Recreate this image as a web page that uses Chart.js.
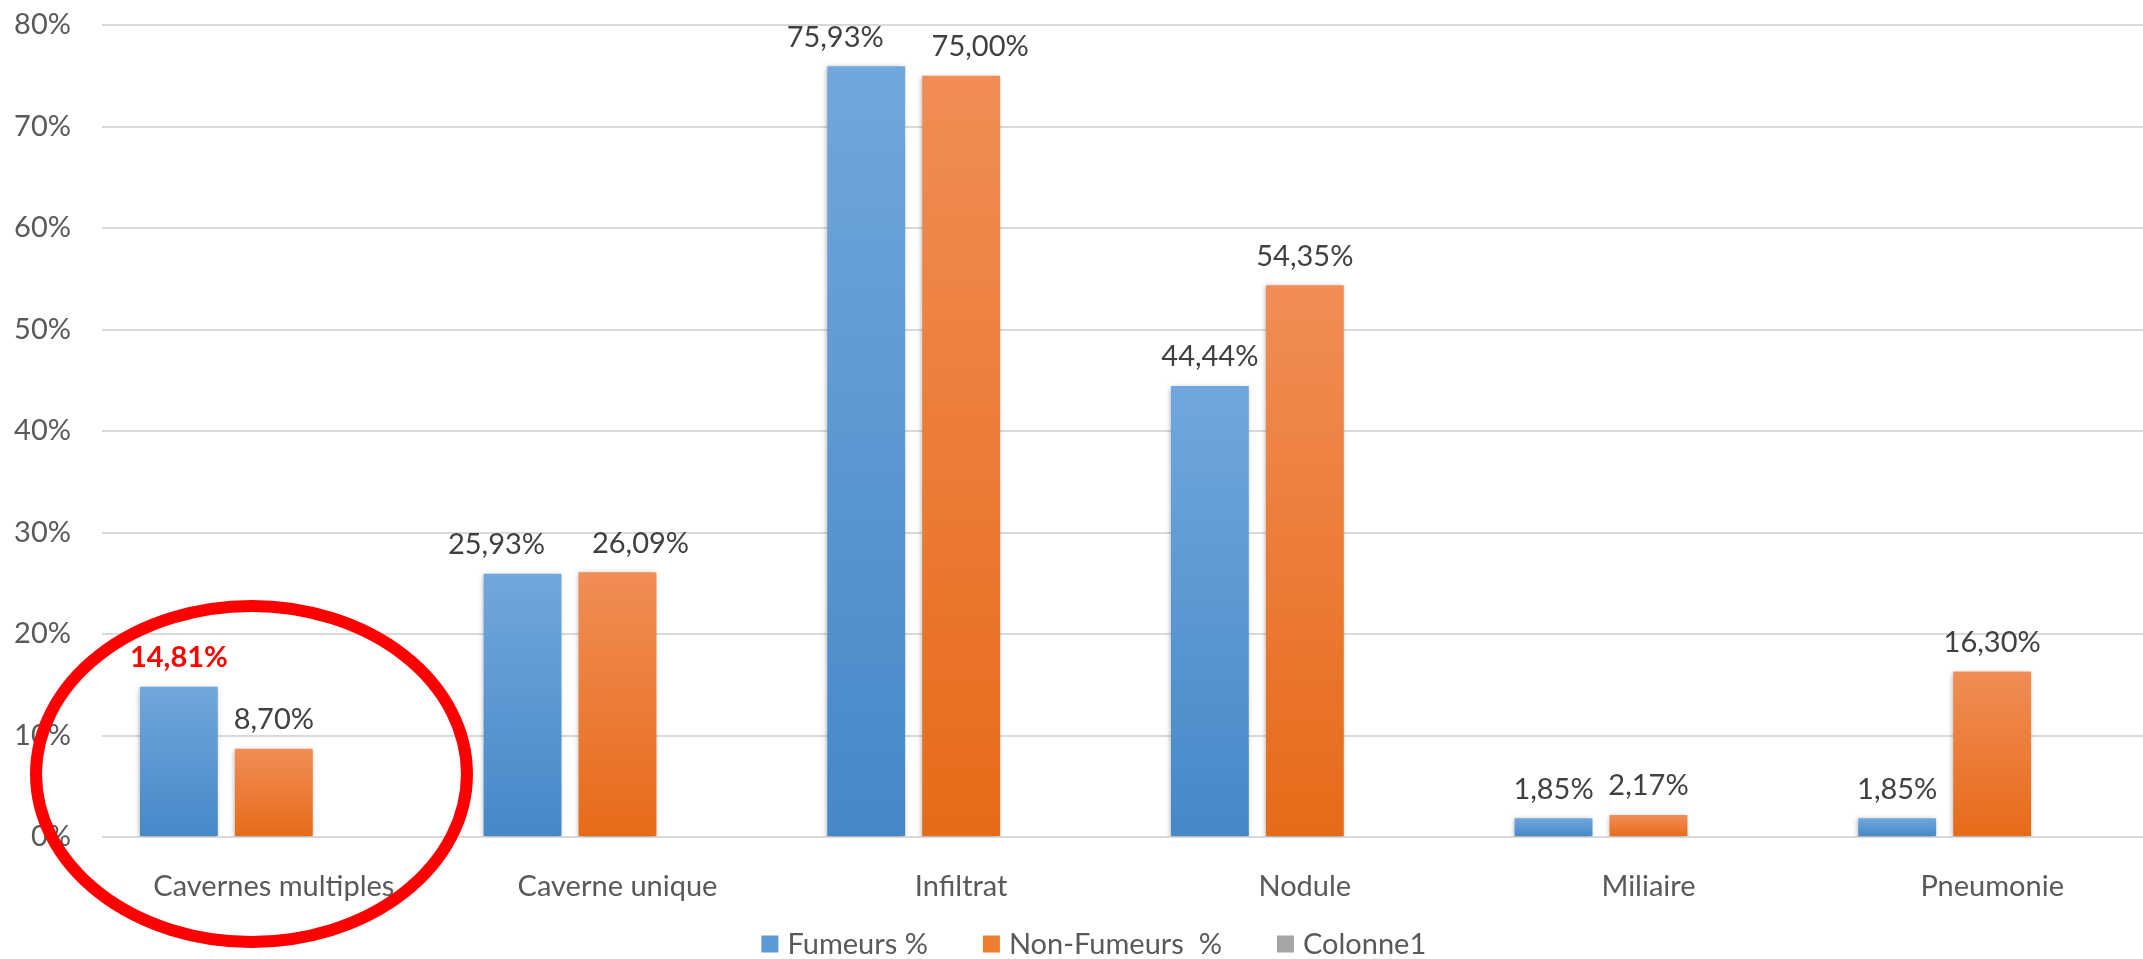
<!DOCTYPE html>
<html>
<head>
<meta charset="utf-8">
<script src="https://cdn.jsdelivr.net/npm/chart.js@4.4.1/dist/chart.umd.min.js"></script>
<style>
  html, body { margin: 0; padding: 0; background: #fff; overflow: hidden; }
  /* the original is cropped on the right, so the canvas runs a little past the window */
  #wrap { width: 2143px; height: 959px; overflow: hidden; }
</style>
</head>
<body>
<div id="wrap"><canvas id="chart" width="2164" height="959"></canvas></div>
<script>
// data
const categories = ["Cavernes multiples", "Caverne unique", "Infiltrat", "Nodule", "Miliaire", "Pneumonie"];
const fumeurs = [14.81, 25.93, 75.93, 44.44, 1.85, 1.85];
const nonFumeurs = [8.70, 26.09, 75.00, 54.35, 2.17, 16.30];
const colonne1 = [null, null, null, null, null, null];
const seriesNames = ["Fumeurs %", "Non-Fumeurs  %", "Colonne1"];
const yMax = 80;
const yStep = 10;
// the one label shown in red bold (series, category)
const highlight = { dataset: 0, index: 0 };

const FONT = "Lato";
const legendColors = ["#5B9BD5", "#ED7D31", "#A5A5A5"];
// labels that were dragged sideways in the original (dataset-index -> px)
const labelNudge = { "0-1": -26, "1-1": 23, "0-2": -31, "1-2": 19 };

const fmt = (v) => v.toFixed(2).replace(".", ",") + "%";

// vertical gradient per bar, like the Excel fill
const gradientFill = (top, bottom) => (context) => {
  const chart = context.chart;
  if (!chart.chartArea || !context.parsed || context.parsed.y == null) return bottom;
  const y0 = chart.scales.y.getPixelForValue(0);
  const y1 = chart.scales.y.getPixelForValue(context.parsed.y);
  if (Math.abs(y0 - y1) < 1) return bottom;
  const g = chart.ctx.createLinearGradient(0, y1, 0, y0);
  g.addColorStop(0, top);
  g.addColorStop(1, bottom);
  return g;
};

const barShadow = {
  id: "barShadow",
  beforeDatasetsDraw(chart) {
    const ctx = chart.ctx;
    ctx.save();
    ctx.shadowColor = "rgba(0,0,0,0.30)";
    ctx.shadowBlur = 5;
    ctx.shadowOffsetX = -1;
    ctx.shadowOffsetY = 1;
  },
  afterDatasetsDraw(chart) {
    chart.ctx.restore();
  },
};

const valueLabels = {
  id: "valueLabels",
  afterDraw(chart) {
    const ctx = chart.ctx;
    const area = chart.chartArea;
    ctx.save();
    ctx.textAlign = "center";
    ctx.textBaseline = "middle";
    chart.data.datasets.forEach((ds, di) => {
      const meta = chart.getDatasetMeta(di);
      meta.data.forEach((bar, i) => {
        const v = ds.data[i];
        if (v == null) return;
        const hot = di === highlight.dataset && i === highlight.index;
        ctx.font = (hot ? "bold " : "") + "29px " + FONT;
        ctx.fillStyle = hot ? "#FF0000" : "#404040";
        const dx = labelNudge[di + "-" + i] || 0;
        ctx.fillText(fmt(v), bar.x + dx, bar.y - 29);
      });
    });

    // legend, drawn by hand so spacing matches the original
    ctx.font = "29px " + FONT;
    ctx.textAlign = "left";
    const box = 17, gap = 9, spacing = 55;
    const widths = seriesNames.map((s) => box + gap + ctx.measureText(s).width);
    const total = widths.reduce((a, b) => a + b, 0) + spacing * (widths.length - 1);
    const mid = area.left + (area.right - area.left) * 0.481;
    let lx = mid - total / 2;
    const ly = 944;
    seriesNames.forEach((s, i) => {
      ctx.fillStyle = legendColors[i];
      ctx.fillRect(lx, ly - box / 2, box, box);
      ctx.fillStyle = "#595959";
      ctx.fillText(s, lx + box + gap, ly + 1);
      lx += widths[i] + spacing;
    });

    // red ring around the first category
    const x = chart.scales.x;
    const y = chart.scales.y;
    const catW = (x.right - x.left) / categories.length;
    const cx = x.getPixelForValue(0) - catW * 0.065;
    const cy = y.getPixelForValue(0) - 63;
    ctx.beginPath();
    ctx.ellipse(cx, cy, catW * 0.627, 168, 0, 0, Math.PI * 2);
    ctx.lineWidth = 12;
    ctx.strokeStyle = "#FF0000";
    ctx.stroke();
    ctx.restore();
  },
};

const ctx = document.getElementById("chart");

new Chart(ctx, {
  type: "bar",
  data: {
    labels: categories,
    datasets: [
      {
        label: seriesNames[0],
        data: fumeurs,
        backgroundColor: gradientFill("#71A7DC", "#4588C8"),
      },
      {
        label: seriesNames[1],
        data: nonFumeurs,
        backgroundColor: gradientFill("#F18D56", "#E66B18"),
      },
      {
        label: seriesNames[2],
        data: colonne1,
        backgroundColor: "#A5A5A5",
      },
    ],
  },
  options: {
    responsive: false,
    devicePixelRatio: 1,
    animation: false,
    categoryPercentage: 0.829,
    barPercentage: 0.82,
    layout: {
      padding: { top: 25, right: 0, bottom: 0, left: 0 },
    },
    scales: {
      x: {
        grid: { display: false },
        border: { display: false },
        ticks: {
          color: "#595959",
          padding: 24,
          font: { family: FONT, size: 29 },
          maxRotation: 0,
        },
        afterFit(scale) {
          // room below the axis for the labels and the legend
          scale.height = 122;
          scale.paddingLeft = 0;
          scale.paddingRight = 0;
        },
      },
      y: {
        min: 0,
        max: yMax,
        border: { display: false },
        grid: { color: "#D9D9D9", lineWidth: 2, drawTicks: false },
        ticks: {
          stepSize: yStep,
          color: "#595959",
          padding: 31,
          font: { family: FONT, size: 29 },
          callback: (v) => v + "%",
        },
        afterFit(scale) {
          scale.width = 102;
          scale.paddingTop = 17;
          scale.paddingBottom = 17;
        },
      },
    },
    plugins: {
      tooltip: { enabled: false },
      legend: { display: false },
    },
  },
  plugins: [barShadow, valueLabels],
});
</script>
</body>
</html>
